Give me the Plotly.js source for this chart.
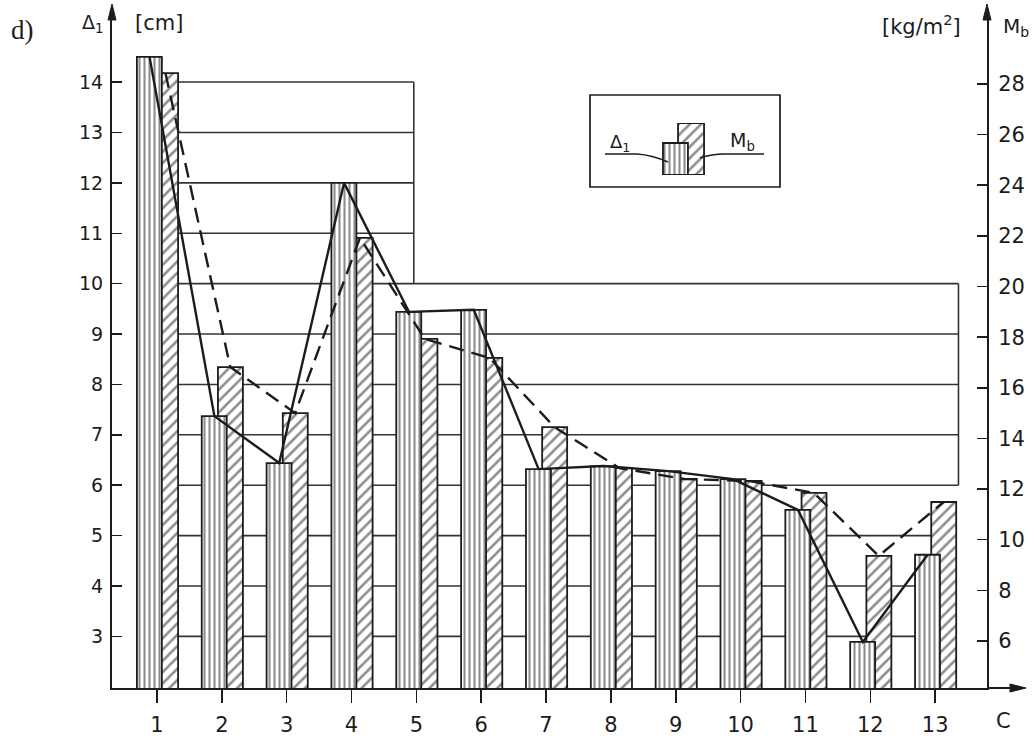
<!DOCTYPE html>
<html>
<head>
<meta charset="utf-8">
<script src="https://cdn.plot.ly/plotly-3.0.1.min.js"></script>
<style>html,body{margin:0;padding:0;background:#fff;}#chart{width:1033px;height:738px;}</style>
</head>
<body>
<div id="chart"></div>
<script>
// ---- data ----
const categories = [1, 2, 3, 4, 5, 6, 7, 8, 9, 10, 11, 12, 13];
const delta1 = [14.5, 7.37, 6.44, 12.0, 9.44, 9.48, 6.32, 6.38, 6.28, 6.12, 5.51, 2.89, 4.62];      // Δ1 [cm]
const mb = [28.43, 16.82, 15.0, 21.92, 17.93, 17.18, 14.45, 12.83, 12.4, 12.32, 11.85, 9.36, 11.49]; // Mb [kg/m2]
const deltaTicks = [3, 4, 5, 6, 7, 8, 9, 10, 11, 12, 13, 14];
const mbTicks = [6, 8, 10, 12, 14, 16, 18, 20, 22, 24, 26, 28];
const xTickLabels = ['1','2','3','4','5','6','7','8','9','10','11','12','13'];
// background stepped frame (Δ1 levels and the category where each line ends)
const gridLevels = [3, 4, 5, 6, 7, 8, 9, 10, 11, 12, 13, 14];
const gridEnds = [13.3, 13.3, 13.3, 13.36, 13.36, 13.36, 13.36, 13.36, 4.96, 4.96, 4.96, 4.96];
const stepEdgeX = [4.96, 13.36];
const stepEdgeLow = [10, 6];
const stepEdgeHigh = [14, 10];
// legend key bars
const legendKeyX = [0.71, 1.31];
const legendKeyH = [0.615, 1.0];

// ---- geometry helpers (plot area: x 112..987, y 10..688) ----
const L = 112, R = 987, T = 10, B = 688;
const px = v => (v - L) / (R - L);
const py = v => (B - v) / (B - T);
const ink = '#1c1c1c';

const vertPattern = {shape: '|', size: 5, solidity: 0.42, fgcolor: ink, bgcolor: '#fff', fillmode: 'overlay'};
const diagPattern = {shape: '/', size: 8, solidity: 0.32, fgcolor: ink, bgcolor: '#fff', fillmode: 'overlay'};

const traces = [
  { // Mb bars (behind)
    type: 'bar', x: categories, y: mb, yaxis: 'y', xaxis: 'x',
    offset: -0.06, width: 0.385,
    marker: {color: '#fff', pattern: diagPattern, line: {color: ink, width: 1.8}},
    hoverinfo: 'skip', showlegend: false
  },
  { // Δ1 bars (front)
    type: 'bar', x: categories, y: delta1, yaxis: 'y2', xaxis: 'x',
    offset: -0.31, width: 0.385,
    marker: {color: '#fff', pattern: vertPattern, line: {color: ink, width: 1.8}},
    hoverinfo: 'skip', showlegend: false
  },
  { // Mb dashed line
    type: 'scatter', mode: 'lines', x: categories.map(c => c + 0.13), y: mb, yaxis: 'y3', xaxis: 'x',
    line: {color: ink, width: 2.4, dash: '15px,8px'}, hoverinfo: 'skip', showlegend: false
  },
  { // Δ1 solid line
    type: 'scatter', mode: 'lines', x: categories.map(c => c - 0.115), y: delta1, yaxis: 'y4', xaxis: 'x',
    line: {color: ink, width: 2.4}, hoverinfo: 'skip', showlegend: false
  },
  { // legend key: Mb
    type: 'bar', x: [legendKeyX[1]], y: [legendKeyH[1]], xaxis: 'x2', yaxis: 'y5', width: 1.0,
    marker: {color: '#fff', pattern: diagPattern, line: {color: ink, width: 1.8}},
    hoverinfo: 'skip', showlegend: false
  },
  { // legend key: Δ1
    type: 'bar', x: [legendKeyX[0]], y: [legendKeyH[0]], xaxis: 'x2', yaxis: 'y5', width: 0.96,
    marker: {color: '#fff', pattern: vertPattern, line: {color: ink, width: 1.8}},
    hoverinfo: 'skip', showlegend: false
  }
];

const dRange = [1.976, 15.43];
const mRange = [4.145, 30.92];

const shapes = [];
gridLevels.forEach((lv, i) => {
  shapes.push({type: 'line', xref: 'x', yref: 'y2', x0: 1, x1: gridEnds[i], y0: lv, y1: lv,
    line: {color: '#333', width: 1.6}, layer: 'below'});
});
stepEdgeX.forEach((xv, i) => {
  shapes.push({type: 'line', xref: 'x', yref: 'y2', x0: xv, x1: xv, y0: stepEdgeLow[i], y1: stepEdgeHigh[i],
    line: {color: '#333', width: 1.6}, layer: 'below'});
});
// legend frame
shapes.push({type: 'rect', xref: 'paper', yref: 'paper', x0: px(590), x1: px(780), y0: py(187), y1: py(95),
  line: {color: ink, width: 1.7}, fillcolor: 'rgba(0,0,0,0)'});
// legend leader lines
shapes.push({type: 'path', xref: 'paper', yref: 'paper',
  path: `M ${px(605)},${py(154)} L ${px(637)},${py(154)} Q ${px(652)},${py(155)} ${px(668)},${py(162)}`,
  line: {color: ink, width: 1.6}});
shapes.push({type: 'path', xref: 'paper', yref: 'paper',
  path: `M ${px(700)},${py(158)} Q ${px(712)},${py(154)} ${px(724)},${py(154)} L ${px(764)},${py(154)}`,
  line: {color: ink, width: 1.6}});
// axis arrowheads and x-axis extension
const tri = (a, b, c) => ({type: 'path', xref: 'paper', yref: 'paper',
  path: `M ${px(a[0])},${py(a[1])} L ${px(b[0])},${py(b[1])} L ${px(c[0])},${py(c[1])} Z`,
  fillcolor: ink, line: {color: ink, width: 1}});
shapes.push(tri([112, 4], [108, 20], [116, 20]));
shapes.push(tri([987, 4], [983, 20], [991, 20]));
shapes.push({type: 'line', xref: 'paper', yref: 'paper', x0: 1, x1: px(1015), y0: 0, y1: 0,
  line: {color: ink, width: 2}});
shapes.push(tri([1026, 688], [1010, 684], [1010, 692]));

const txt = (t, x, y, size, family) => ({
  text: t, xref: 'paper', yref: 'paper', x: px(x), y: py(y), xanchor: 'center', yanchor: 'middle',
  showarrow: false, font: {family: family || 'DejaVu Sans, sans-serif', size: size, color: ink}
});

const annotations = [
  txt('d)', 22, 30, 27, 'Liberation Serif, serif'),
  txt('Δ<sub>1</sub>', 92, 24, 19),
  txt('[cm]', 159, 23, 21),
  txt('[kg/m<sup>2</sup>]', 921, 25, 21),
  txt('M<sub>b</sub>', 1016, 27, 20),
  txt('C', 1003, 721, 21),
  txt('Δ<sub>1</sub>', 620, 143, 18),
  txt('M<sub>b</sub>', 742, 142, 19)
];

const tickFont = s => ({family: 'DejaVu Sans, sans-serif', size: s, color: ink});

const layout = {
  width: 1033, height: 738,
  margin: {l: L, r: 1033 - R, t: T, b: 738 - B, pad: 0},
  paper_bgcolor: '#fff', plot_bgcolor: '#fff',
  barmode: 'overlay', showlegend: false,
  xaxis: {
    range: [0.306, 13.8], tickvals: categories, ticktext: xTickLabels,
    showline: true, linecolor: ink, linewidth: 2, ticks: 'outside', ticklen: 13, tickwidth: 1.5, tickcolor: ink,
    ticklabelstandoff: 4, showgrid: false, zeroline: false, tickfont: tickFont(21), fixedrange: true
  },
  yaxis: { // Mb, right side (base)
    range: mRange, side: 'right', anchor: 'x', tickvals: mbTicks,
    showline: true, linecolor: ink, linewidth: 2, ticks: 'inside', ticklen: 10, tickwidth: 1.5, tickcolor: ink,
    ticklabelstandoff: 5, showgrid: false, zeroline: false, tickfont: tickFont(21), fixedrange: true
  },
  yaxis2: { // Δ1, left side
    range: dRange, side: 'left', overlaying: 'y', anchor: 'x', tickvals: deltaTicks,
    showline: true, linecolor: ink, linewidth: 2, ticks: 'inside', ticklen: 10, tickwidth: 1.5, tickcolor: ink,
    ticklabelstandoff: 3, showgrid: false, zeroline: false, tickfont: tickFont(19), fixedrange: true
  },
  yaxis3: {range: mRange, overlaying: 'y', anchor: 'x', visible: false, fixedrange: true},
  yaxis4: {range: dRange, overlaying: 'y', anchor: 'x', visible: false, fixedrange: true},
  xaxis2: {domain: [px(657), px(709)], range: [0, 2], anchor: 'y5', visible: false, fixedrange: true},
  yaxis5: {domain: [py(175), py(123)], range: [0, 1], anchor: 'x2', visible: false, fixedrange: true},
  shapes: shapes,
  annotations: annotations
};

Plotly.newPlot('chart', traces, layout, {staticPlot: true, displayModeBar: false});
</script>
</body>
</html>
